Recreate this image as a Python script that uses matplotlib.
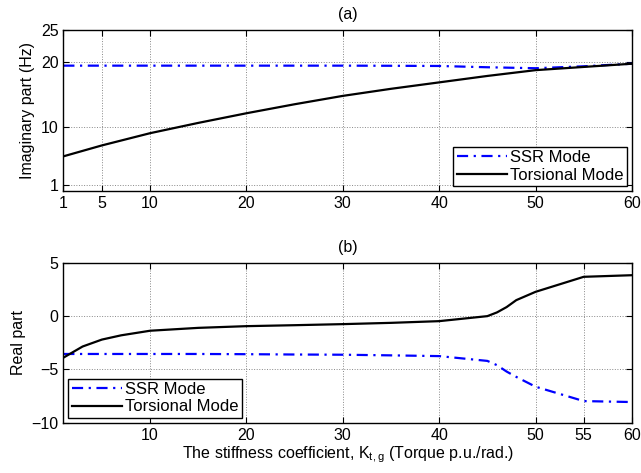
"""Modos SSR e torcional em função do coeficiente de rigidez K_t,g."""

import matplotlib

matplotlib.use("Agg")
import matplotlib.pyplot as plt

plt.rcParams["font.family"] = ["Liberation Sans", "DejaVu Sans"]
plt.rcParams["mathtext.default"] = "regular"
plt.rcParams["font.size"] = 11.5

# (a) parte imaginária (Hz)
k_imag = [1, 5, 10, 15, 20, 25, 30, 35, 40, 45, 50, 55, 60]
ssr_imag = [19.5, 19.5, 19.5, 19.5, 19.5, 19.5, 19.5, 19.48, 19.45, 19.25, 19.1, 19.4, 19.8]
tors_imag = [5.4, 7.1, 9.0, 10.6, 12.1, 13.5, 14.8, 15.9, 16.9, 17.9, 18.8, 19.3, 19.8]

# (b) parte real
k_real = [1, 3, 5, 7, 10, 15, 20, 25, 30, 35, 40, 45, 46, 47, 48, 50, 55, 60]
ssr_real = [-3.55, -3.55, -3.55, -3.55, -3.55, -3.55, -3.57, -3.6, -3.62, -3.68,
            -3.75, -4.2, -4.6, -5.2, -5.7, -6.62, -7.97, -8.06]
tors_real = [-3.9, -2.85, -2.2, -1.8, -1.37, -1.1, -0.94, -0.85, -0.75, -0.63,
             -0.47, 0.0, 0.35, 0.85, 1.5, 2.28, 3.69, 3.84]

xticks_a = [1, 5, 10, 20, 30, 40, 50, 60]
xticks_b = [10, 20, 30, 40, 50, 55, 60]
yticks_a = [1, 10, 20, 25]
yticks_b = [-10, -5, 0, 5]

SSR_STYLE = dict(color="#0000ff", linestyle=(0, (5, 2.5, 1, 2.5)), linewidth=1.6)
TORS_STYLE = dict(color="black", linestyle="-", linewidth=1.6)


def style_axes(ax):
    ax.grid(True, linestyle=":", color="#888888", linewidth=0.7)
    ax.tick_params(direction="in", top=True, right=True, length=4, labelsize=11.5)
    for s in ax.spines.values():
        s.set_linewidth(1.0)


def add_legend(ax, loc):
    leg = ax.legend(loc=loc, fancybox=False, edgecolor="black", fontsize=12,
                    framealpha=1, borderaxespad=0.3, handlelength=3.0,
                    borderpad=0.2, labelspacing=0.15, handletextpad=0.2)
    leg.get_frame().set_linewidth(1.0)


fig = plt.figure(figsize=(6.41, 4.73), dpi=100)
ax1 = fig.add_axes([0.0988, 0.596, 0.887, 0.340])
ax2 = fig.add_axes([0.0988, 0.1063, 0.887, 0.338])

ax1.plot(k_imag, ssr_imag, label="SSR Mode", **SSR_STYLE)
ax1.plot(k_imag, tors_imag, label="Torsional Mode", **TORS_STYLE)
ax1.set_xlim(1, 60)
ax1.set_ylim(0, 25)
ax1.set_xticks(xticks_a)
ax1.set_yticks(yticks_a)
ax1.set_ylabel("Imaginary part (Hz)")
ax1.set_title("(a)", fontsize=11.5, pad=8)
style_axes(ax1)
add_legend(ax1, "lower right")

ax2.plot(k_real, ssr_real, label="SSR Mode", **SSR_STYLE)
ax2.plot(k_real, tors_real, label="Torsional Mode", **TORS_STYLE)
ax2.set_xlim(1, 60)
ax2.set_ylim(-10, 5)
ax2.set_xticks(xticks_b)
ax2.set_yticks(yticks_b)
ax2.set_yticklabels(["\u221210", "\u22125", "0", "5"])
ax2.set_ylabel("Real part")
ax2.set_xlabel("The stiffness coefficient, K$_{t,g}$ (Torque p.u./rad.)", labelpad=1)
ax2.set_title("(b)", fontsize=11.5, pad=8)
style_axes(ax2)
add_legend(ax2, "lower left")

fig.savefig("out.png", dpi=100)
